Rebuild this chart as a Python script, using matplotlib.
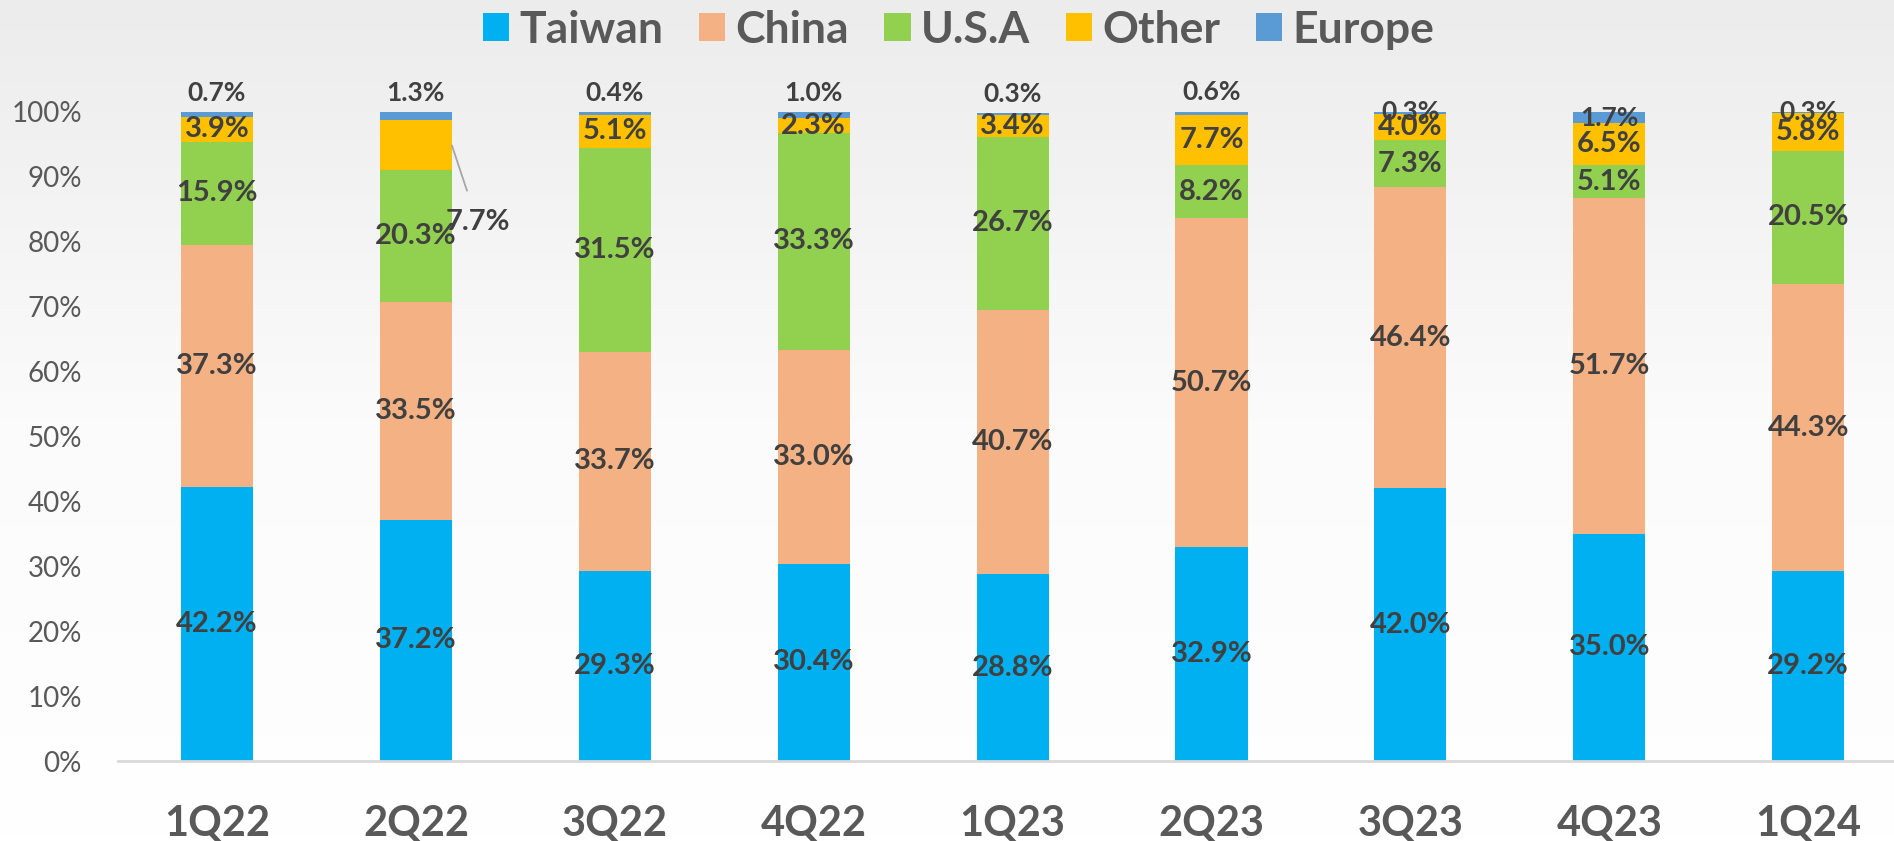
import matplotlib
matplotlib.use("Agg")
import matplotlib.pyplot as plt
import numpy as np
from matplotlib.patches import Patch
from matplotlib.colors import LinearSegmentedColormap

categories = ["1Q22", "2Q22", "3Q22", "4Q22", "1Q23", "2Q23", "3Q23", "4Q23", "1Q24"]
taiwan = [42.2, 37.2, 29.3, 30.4, 28.8, 32.9, 42.0, 35.0, 29.2]
china = [37.3, 33.5, 33.7, 33.0, 40.7, 50.7, 46.4, 51.7, 44.3]
usa = [15.9, 20.3, 31.5, 33.3, 26.7, 8.2, 7.3, 5.1, 20.5]
other = [3.9, 7.7, 5.1, 2.3, 3.4, 7.7, 4.0, 6.5, 5.8]
europe = [0.7, 1.3, 0.4, 1.0, 0.3, 0.6, 0.3, 1.7, 0.3]

series = [("Taiwan", taiwan, "#00B0F0"),
          ("China", china, "#F4B183"),
          ("U.S.A", usa, "#92D050"),
          ("Other", other, "#FFC000"),
          ("Europe", europe, "#5B9BD5")]

FONT = ["Lato", "DejaVu Sans"]
plt.rcParams["font.family"] = FONT

W, H = 1894, 841
fig = plt.figure(figsize=(W / 100, H / 100), dpi=100)

# subtle background gradient
bg = fig.add_axes([0, 0, 1, 1], zorder=-10)
grad = np.linspace(1.0, 0.0, 256).reshape(-1, 1)
cmap = LinearSegmentedColormap.from_list("bg", ["#ececec", "#fbfbfb", "#ffffff"])
bg.imshow(grad, aspect="auto", cmap=cmap, extent=[0, 1, 0, 1], origin="lower")
bg.axis("off")

left = 118 / W
bottom = (H - 761) / H
top = (H - 112) / H
ax = fig.add_axes([left, bottom, 1 - left, top - bottom])
ax.patch.set_alpha(0)

x = np.arange(len(categories))
width = 0.362
base = np.zeros(len(categories))
label_color = "#404040"
for name, vals, col in series:
    vals = np.array(vals)
    ax.bar(x, vals, width, bottom=base, color=col, label=name, zorder=2)
    for i, (v, b) in enumerate(zip(vals, base)):
        txt = f"{v:.1f}%"
        if name == "Europe":
            if i < 6:
                ax.annotate(txt, (x[i], b + v), xytext=(0, 5), textcoords="offset points",
                            ha="center", va="bottom", fontsize=19, fontweight="bold",
                            color=label_color, annotation_clip=False)
            else:
                ax.text(x[i], b + v / 2 if v > 1 else 100, txt, ha="center", va="center",
                        fontsize=19, fontweight="bold", color=label_color, clip_on=False)
        elif name == "Other" and i == 1:
            ax.annotate(txt, xy=(x[i] + width / 2, b + v / 2), xytext=(x[i] + 0.31, 83.0),
                        ha="center", va="center", fontsize=21, fontweight="bold",
                        color=label_color,
                        arrowprops=dict(arrowstyle="-", color="#a6a6a6", lw=1.3,
                                        shrinkA=12, shrinkB=0))
        else:
            ax.text(x[i], b + v / 2, txt, ha="center", va="center", fontsize=21,
                    fontweight="bold", color=label_color)
    base = base + vals

px_per_unit = 198.9
xmin = -(217 - 118) / px_per_unit
xmax = xmin + (W - 118) / px_per_unit
ax.set_xlim(xmin, xmax)
ax.set_ylim(0, 100)
ax.set_yticks(np.arange(0, 101, 10))
ax.set_yticklabels([f"{t}%" for t in range(0, 101, 10)], fontsize=20, color="#595959")
ax.set_xticks(x)
ax.set_xticklabels(categories, fontsize=30, fontweight="bold", color="#595959")
ax.tick_params(axis="y", length=0, pad=26)
ax.tick_params(axis="x", length=0, pad=31)
for s in ["top", "right", "left"]:
    ax.spines[s].set_visible(False)
ax.spines["bottom"].set_color("#d9d9d9")
ax.spines["bottom"].set_linewidth(2)

handles = [Patch(facecolor=c, label=n) for n, _, c in series]
fig.legend(handles=handles, loc="center", bbox_to_anchor=(0.506, 1 - 30 / H), ncol=5,
           frameon=False, prop={"family": FONT, "weight": "bold", "size": 32},
           labelcolor="#595959", handlelength=0.6, handleheight=0.6,
           handletextpad=0.22, columnspacing=0.8)

fig.savefig("out.png", dpi=100)
